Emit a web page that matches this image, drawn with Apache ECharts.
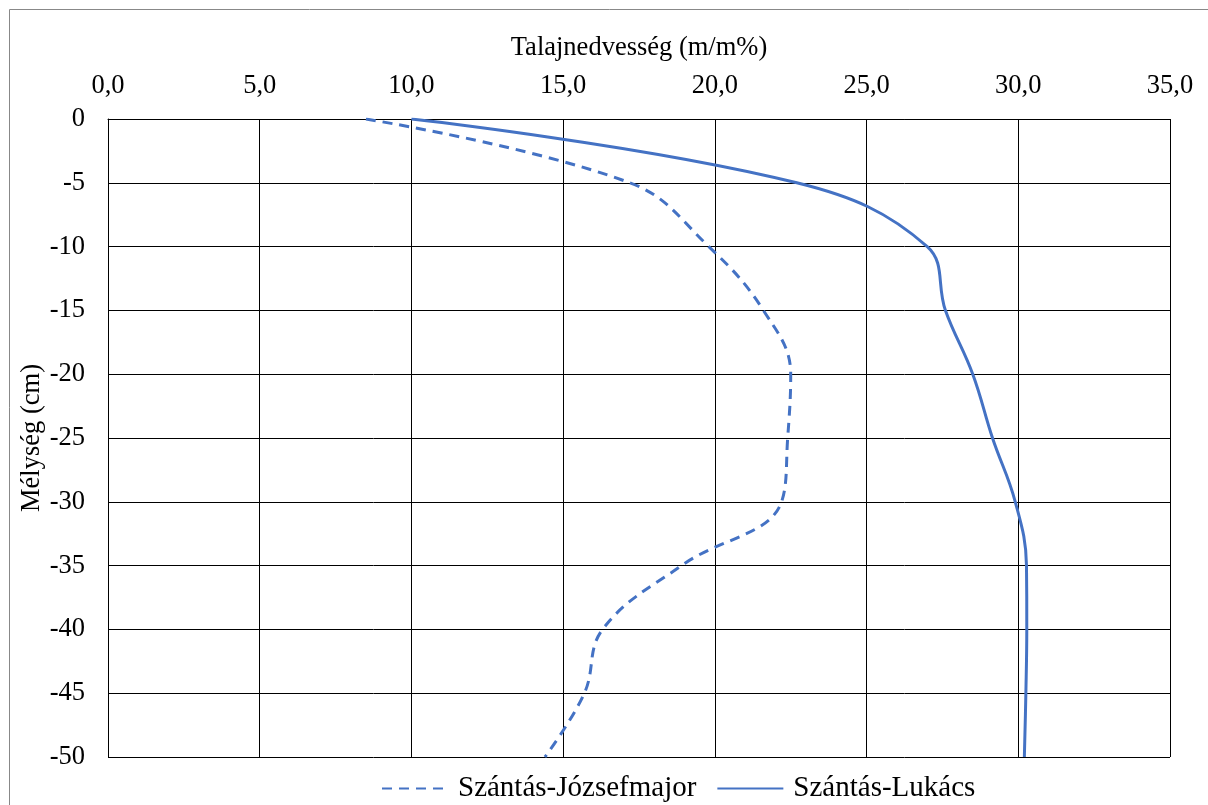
<!DOCTYPE html>
<html>
<head>
<meta charset="utf-8">
<script src="https://cdn.jsdelivr.net/npm/echarts@6/dist/echarts.min.js"></script>
<style>
  html, body { margin: 0; padding: 0; background: #fff; }
  #chart { width: 1208px; height: 805px; }
</style>
</head>
<body>
<div id="chart"></div>
<script>
// depth (cm) and soil moisture (m/m%)
const depths = [0, -5, -10, -15, -20, -25, -30, -35, -40, -45, -50];
const jozsefmajor = [8.5, 17.2, 19.8, 21.6, 22.5, 22.4, 22.2, 18.9, 16.3, 15.7, 14.4];
const lukacs = [10.0, 22.7, 27.0, 27.6, 28.5, 29.15, 29.9, 30.27, 30.28, 30.25, 30.2];

const seriesNames = ['Szántás-Józsefmajor', 'Szántás-Lukács'];
const font = '"Liberation Serif", "DejaVu Serif", serif';
const blue = '#4472C4';

const pairs = (xs) => xs.map((x, i) => [x, depths[i]]);

const chart = echarts.init(document.getElementById('chart'));

chart.setOption({
  animation: false,
  textStyle: { fontFamily: font, color: '#000' },
  graphic: [{
    type: 'rect',
    shape: { x: 9.5, y: 9.5, width: 1220, height: 820 },
    style: { fill: 'none', stroke: '#888', lineWidth: 1 },
    silent: true
  }],
  grid: { left: 108, right: 38, top: 119, bottom: 48 },
  legend: {
    top: 769,
    left: 376,
    itemWidth: 66,
    itemHeight: 14,
    itemGap: 20,
    itemStyle: { opacity: 0 },
    textStyle: { fontFamily: font, fontSize: 29, color: '#000', padding: [0, 0, 0, 5] },
    data: seriesNames
  },
  xAxis: {
    type: 'value',
    position: 'top',
    min: 0,
    max: 35,
    interval: 5,
    name: 'Talajnedvesség (m/m%)',
    nameLocation: 'middle',
    nameGap: 57,
    nameTextStyle: { fontFamily: font, fontSize: 26.5, color: '#000' },
    axisLine: { show: true, lineStyle: { color: '#000', width: 1 } },
    axisTick: { show: false },
    axisLabel: {
      margin: 19,
      fontFamily: font,
      fontSize: 26.5,
      color: '#000',
      formatter: (v) => v.toFixed(1).replace('.', ',')
    },
    splitLine: { show: true, lineStyle: { color: '#000', width: 1 } }
  },
  yAxis: {
    type: 'value',
    min: -50,
    max: 0,
    interval: 5,
    name: 'Mélység (cm)',
    nameLocation: 'middle',
    nameRotate: 90,
    nameGap: 62,
    nameMoveOverlap: false,
    nameTextStyle: { fontFamily: font, fontSize: 26.5, color: '#000' },
    axisLine: { show: true, lineStyle: { color: '#000', width: 1 } },
    axisTick: { show: false },
    axisLabel: { margin: 23, fontFamily: font, fontSize: 26.5, color: '#000' },
    splitLine: { show: true, lineStyle: { color: '#000', width: 1 } }
  },
  series: [
    {
      name: seriesNames[0],
      type: 'line',
      data: pairs(jozsefmajor),
      smooth: 0.4,
      symbol: 'none',
      lineStyle: { color: blue, width: 3, type: [10, 7] },
      itemStyle: { color: blue }
    },
    {
      name: seriesNames[1],
      type: 'line',
      data: pairs(lukacs),
      smooth: 0.4,
      symbol: 'none',
      lineStyle: { color: blue, width: 3, type: 'solid' },
      itemStyle: { color: blue }
    }
  ]
});
</script>
</body>
</html>
